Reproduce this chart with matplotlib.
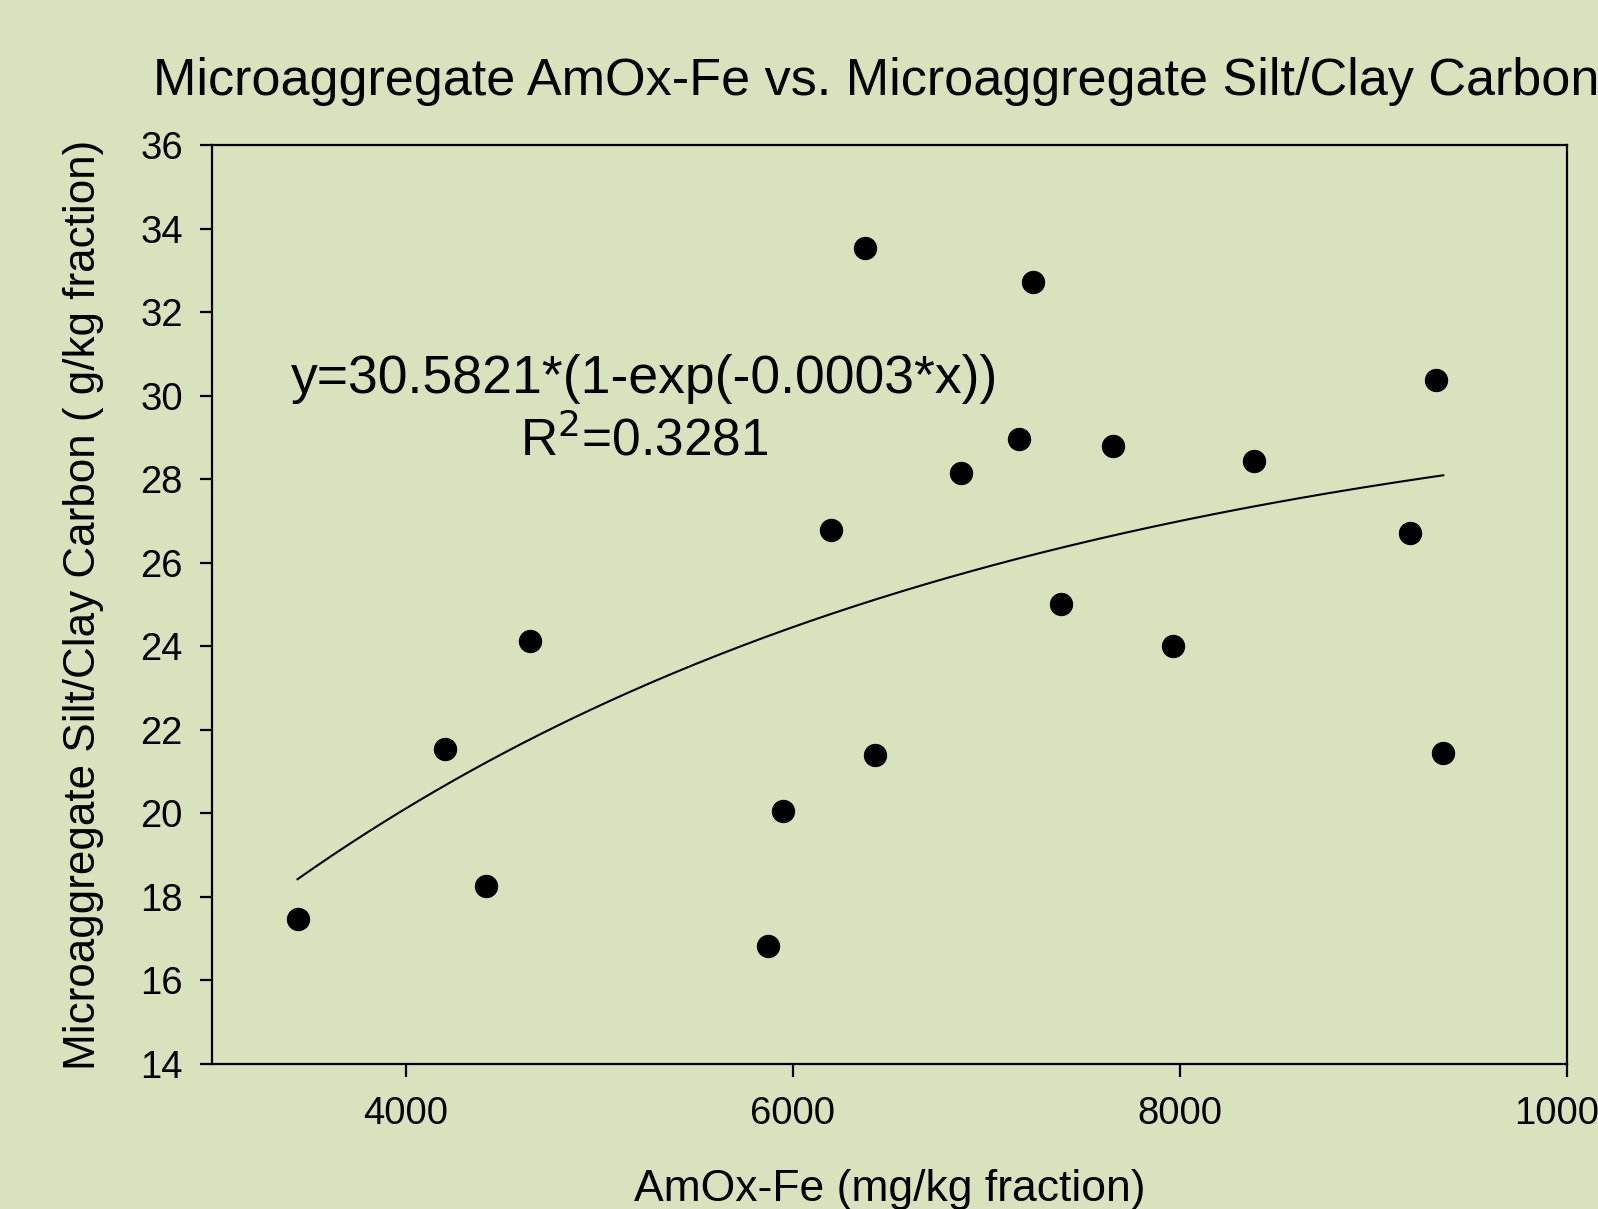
import numpy as np
import matplotlib
matplotlib.use('Agg')
import matplotlib.pyplot as plt

plt.rcParams['font.family'] = ['Liberation Sans', 'DejaVu Sans']

# AmOx-Fe (mg/kg fraction) vs silt/clay carbon (g/kg fraction)
amox_fe = [3442, 4206, 4417, 4643, 5870, 5949, 6196, 6375, 6423, 6870,
           7171, 7239, 7387, 7655, 7966, 8382, 9187, 9324, 9361]
carbon = [17.47, 21.54, 18.25, 24.13, 16.83, 20.05, 26.79, 33.53, 21.40, 28.14,
          28.97, 32.73, 25.01, 28.80, 24.01, 28.43, 26.70, 30.38, 21.45]

# fitted curve y = a*(1-exp(-b*x))
fit_a = 30.5821
fit_b = 0.000268
eq_text = 'y=30.5821*(1-exp(-0.0003*x))'
r2_text = 'R$^2$=0.3281'

bg = '#d8e3bd'
W, H, dpi = 1598, 1209, 100
fig = plt.figure(figsize=(W/dpi, H/dpi), dpi=dpi, facecolor=bg)
ax = fig.add_axes([212/W, 1-1064/H, (1567-212)/W, (1064-145)/H], facecolor=bg)

ax.scatter(amox_fe, carbon, s=250, color='black', zorder=3)
xs = np.linspace(min(amox_fe), max(amox_fe), 200)
ax.plot(xs, fit_a*(1-np.exp(-fit_b*xs)), color='black', lw=1.5)

ax.set_xlim(3000, 10000)
ax.set_ylim(14, 36)
ax.set_xticks([4000, 6000, 8000, 10000])
ax.set_yticks(range(14, 37, 2))
ax.tick_params(direction='out', length=9, width=1.6, labelsize=27.5)
ax.tick_params(axis='x', pad=14)
ax.tick_params(axis='y', pad=12)
for s in ax.spines.values():
    s.set_linewidth(1.6)

ax.set_xlabel('AmOx-Fe (mg/kg fraction)', fontsize=32, labelpad=27)
ax.set_ylabel('Microaggregate Silt/Clay Carbon ( g/kg fraction)', fontsize=31.7, labelpad=26)

fig.text(153/W, 1-82/H, 'Microaggregate AmOx-Fe vs. Microaggregate Silt/Clay Carbon',
         fontsize=37.5, ha='left', va='center')

ax.text(5233, 30.41, eq_text, fontsize=38.5, ha='center', va='center')
ax.text(5233, 28.92, r2_text, fontsize=37, ha='center', va='center')

fig.savefig('out.png', dpi=dpi, facecolor=bg)
